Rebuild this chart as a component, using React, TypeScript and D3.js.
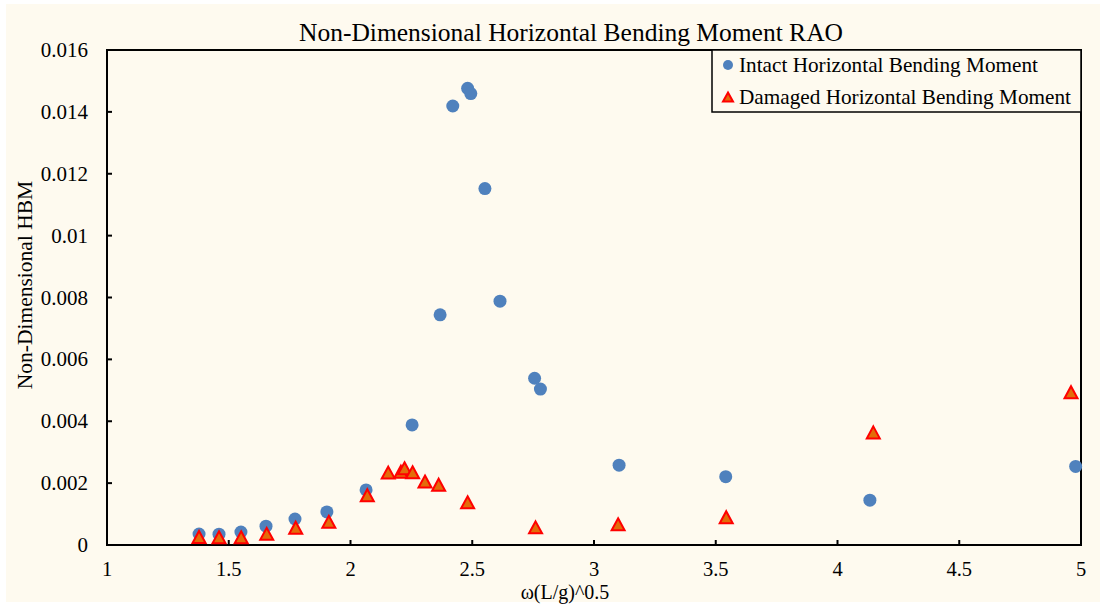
import React from "react";
import * as d3 from "d3";

const intactX = [1.378, 1.46, 1.55, 1.653, 1.772, 1.903, 2.064, 2.253, 2.368, 2.42, 2.481, 2.494, 2.552, 2.614, 2.756, 2.78, 3.103, 3.541, 4.133, 4.978];
const intactY = [0.000356, 0.00035, 0.00042, 0.00061, 0.00084, 0.00107, 0.00178, 0.00388, 0.00744, 0.01419, 0.01476, 0.01459, 0.01152, 0.00788, 0.00539, 0.00504, 0.00258, 0.00221, 0.00145, 0.00254];

const damagedX = [1.378, 1.46, 1.551, 1.656, 1.775, 1.911, 2.069, 2.155, 2.207, 2.222, 2.255, 2.306, 2.362, 2.481, 2.76, 3.099, 3.543, 4.147, 4.959];
const damagedY = [0.00026, 0.00025, 0.00025, 0.00036, 0.00056, 0.00075, 0.00161, 0.00234, 0.00237, 0.00248, 0.00235, 0.00205, 0.00195, 0.00138, 0.00057, 0.00067, 0.0009, 0.00364, 0.00494];

const xTicks = [1, 1.5, 2, 2.5, 3, 3.5, 4, 4.5, 5];
const yTicks = [0, 0.002, 0.004, 0.006, 0.008, 0.01, 0.012, 0.014, 0.016];
const yTickLabels = ["0", "0.002", "0.004", "0.006", "0.008", "0.01", "0.012", "0.014", "0.016"];

const seriesNames = ["Intact Horizontal Bending Moment", "Damaged Horizontal Bending Moment"];

const L = 107, R = 1081, T = 50, B = 545;
const FONT = "'Liberation Serif', 'Times New Roman', serif";
const BLUE = "#4F81BD";
const ORANGE = "#E36C09";
const RED = "#FF0000";

function tri(w: number, h: number) {
  return `M0,${-h / 2}L${w / 2},${h / 2}L${-w / 2},${h / 2}Z`;
}

export default function App() {
  const x = d3.scaleLinear().domain([1, 5]).range([L, R]);
  const y = d3.scaleLinear().domain([0, 0.016]).range([B, T]);
  return (
    <svg width={1100} height={605} style={{ position: "absolute", left: 0, top: 0 }} fontFamily={FONT}>
      <rect x={0} y={0} width={1100} height={605} fill="#ffffff" />
      <rect x={6} y={4} width={1094} height={598} fill="#FEFAEF" />
      <text x={571} y={41} fontSize={25.5} textAnchor="middle" fill="#000">Non-Dimensional Horizontal Bending Moment RAO</text>
      {/* frame */}
      <rect x={L} y={T} width={R - L} height={B - T} fill="none" stroke="#000" strokeWidth={2} />
      {/* ticks */}
      {xTicks.map((t, i) => (
        <g key={"xt" + i}>
          <line x1={x(t)} x2={x(t)} y1={B} y2={B - 5} stroke="#000" strokeWidth={2} />
          <text x={x(t)} y={576} fontSize={20.5} textAnchor="middle">{String(t)}</text>
        </g>
      ))}
      {yTicks.map((t, i) => (
        <g key={"yt" + i}>
          <line x1={L} x2={L + 5} y1={y(t)} y2={y(t)} stroke="#000" strokeWidth={2} />
          <text x={88} y={y(t) + 7} fontSize={21} textAnchor="end">{yTickLabels[i]}</text>
        </g>
      ))}
      <text x={565} y={599} fontSize={20} textAnchor="middle">ω(L/g)^0.5</text>
      <text transform={`translate(32,285) rotate(-90)`} fontSize={21.5} textAnchor="middle">Non-Dimensional HBM</text>
      {/* data */}
      {intactX.map((v, i) => (
        <circle key={"c" + i} cx={x(v)} cy={y(intactY[i])} r={6.5} fill={BLUE} />
      ))}
      {damagedX.map((v, i) => (
        <path key={"t" + i} d={tri(13, 12)} transform={`translate(${x(v)},${y(damagedY[i])})`} fill={ORANGE} stroke={RED} strokeWidth={2} strokeLinejoin="miter" />
      ))}
      {/* legend */}
      <rect x={712} y={50} width={369} height={62} fill="#FEFAEF" stroke="#000" strokeWidth={1.5} />
      <circle cx={728} cy={65} r={5} fill={BLUE} />
      <text x={739} y={72} fontSize={21} textLength={299} lengthAdjust="spacingAndGlyphs">{seriesNames[0]}</text>
      <path d={tri(10, 9)} transform="translate(728,97)" fill={ORANGE} stroke={RED} strokeWidth={2} />
      <text x={739} y={104} fontSize={21} textLength={332} lengthAdjust="spacingAndGlyphs">{seriesNames[1]}</text>
    </svg>
  );
}
